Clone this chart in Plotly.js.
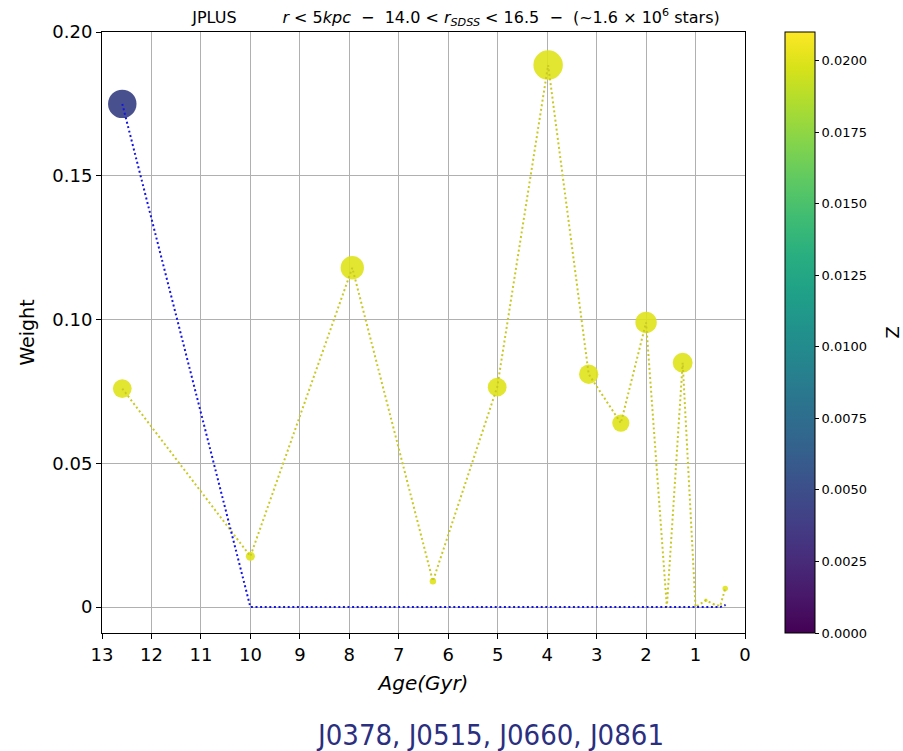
<!DOCTYPE html>
<html>
<head>
<meta charset="utf-8">
<script src="https://cdn.plot.ly/plotly-3.0.1.min.js"></script>
<style>html,body{margin:0;padding:0;background:#fff;}#chart{width:903px;height:751px;}</style>
</head>
<body>
<div id="chart"></div>
<script>
// Ages (Gyr) of the SSP grid
const ages = [12.59, 10.0, 7.94, 6.31, 5.01, 3.98, 3.16, 2.51, 2.0, 1.58, 1.26, 1.0, 0.79, 0.63, 0.50, 0.40];
// High-metallicity population weights
const weightsHigh = [0.076, 0.0177, 0.118, 0.0090, 0.0765, 0.1885, 0.081, 0.064, 0.099, 0.0, 0.085, 0.0, 0.0024, 0.0010, 0.0004, 0.0065];
const zHigh = 0.020;
// Low-metallicity population weights
const weightsLow = [0.175, 0, 0, 0, 0, 0, 0, 0, 0, 0, 0, 0, 0, 0, 0, 0.0007];
const zLow = 0.0045;
const yTickVals = [0, 0.05, 0.10, 0.15, 0.20];
const yTickText = ['0', '0.05', '0.10', '0.15', '0.20'];
const xTickVals = [13, 12, 11, 10, 9, 8, 7, 6, 5, 4, 3, 2, 1, 0];
const cbTickVals = [0, 0.0025, 0.005, 0.0075, 0.01, 0.0125, 0.015, 0.0175, 0.02];
const filters = 'J0378, J0515, J0660, J0861';

const sz = w => 68 * Math.sqrt(Math.max(w, 0));
const font = 'DejaVu Sans';

const traces = [
  {x: ages, y: weightsHigh, type: 'scatter', mode: 'markers', showlegend: false, hoverinfo: 'skip',
   marker: {size: weightsHigh.map(sz), color: weightsHigh.map(() => zHigh), coloraxis: 'coloraxis', opacity: 0.9, line: {width: 0}}},
  {x: ages, y: weightsLow, type: 'scatter', mode: 'markers', showlegend: false, hoverinfo: 'skip',
   marker: {size: weightsLow.map(sz), color: weightsLow.map(() => zLow), coloraxis: 'coloraxis', opacity: 0.95, line: {width: 0}}},
  {x: ages, y: weightsHigh, type: 'scatter', mode: 'lines', showlegend: false, hoverinfo: 'skip',
   line: {color: '#c9c925', width: 2, dash: '2px,2.6px'}},
  {x: ages, y: weightsLow, type: 'scatter', mode: 'lines', showlegend: false, hoverinfo: 'skip',
   line: {color: '#1414e6', width: 2, dash: '2px,2.6px'}}
];

const nb = '\u00A0';
const titleText = 'JPLUS' + nb.repeat(9) + '<i>r</i> < 5<i>kpc</i>' + nb + ' − ' + nb + '14.0 < <i>r</i><sub><i>SDSS</i></sub> < 16.5' + nb + ' − ' + nb + '(~1.6 × 10<sup>6</sup> stars)';

const layout = {
  width: 903, height: 751,
  margin: {l: 102, r: 158, t: 32, b: 118},
  paper_bgcolor: '#fff', plot_bgcolor: '#fff',
  font: {family: font, color: '#000'},
  title: {text: titleText, x: 0.505, xanchor: 'center', y: 0.977, yanchor: 'middle', font: {size: 16, family: font}},
  xaxis: {range: [13, 0], tickvals: xTickVals, ticktext: xTickVals.map(String), showgrid: true, gridcolor: '#b0b0b0', gridwidth: 1,
          zeroline: false, showline: true, linecolor: '#000', linewidth: 1, mirror: true, ticks: 'outside', ticklen: 5, tickcolor: '#000',
          tickfont: {size: 18, family: font},
          title: {text: '<i>Age(Gyr)</i>', font: {size: 20, family: font}, standoff: 12}},
  yaxis: {range: [-0.009, 0.2], tickvals: yTickVals, ticktext: yTickText, showgrid: true, gridcolor: '#b0b0b0', gridwidth: 1,
          zeroline: false, showline: true, linecolor: '#000', linewidth: 1, mirror: true, ticks: 'outside', ticklen: 5, tickcolor: '#000',
          tickfont: {size: 18, family: font},
          title: {text: 'Weight', font: {size: 19, family: font}, standoff: 12}},
  coloraxis: {colorscale: 'Viridis', cmin: 0, cmax: 0.021,
    colorbar: {x: 1.062, xanchor: 'left', y: 0.5, yanchor: 'middle', len: 1, lenmode: 'fraction', thickness: 30, thicknessmode: 'pixels',
      outlinewidth: 1, outlinecolor: '#000', ticks: 'outside', ticklen: 4, tickcolor: '#000',
      tickvals: cbTickVals, ticktext: cbTickVals.map(v => v.toFixed(4)), tickfont: {size: 13, family: font}, xpad: 0, ypad: 0}},
  annotations: [
    {text: 'Z', xref: 'paper', yref: 'paper', x: 1.230, y: 0.5, xanchor: 'center', yanchor: 'middle', textangle: -90, showarrow: false,
     font: {size: 18, family: font, color: '#000'}},
    {text: filters, xref: 'paper', yref: 'paper', x: 0.603, y: -0.1697, xanchor: 'center', yanchor: 'middle', showarrow: false,
     font: {size: 29, family: 'DejaVu Sans Condensed', color: '#2b2f80'}}
  ]
};

Plotly.newPlot('chart', traces, layout, {displayModeBar: false, staticPlot: true});
</script>
</body>
</html>
